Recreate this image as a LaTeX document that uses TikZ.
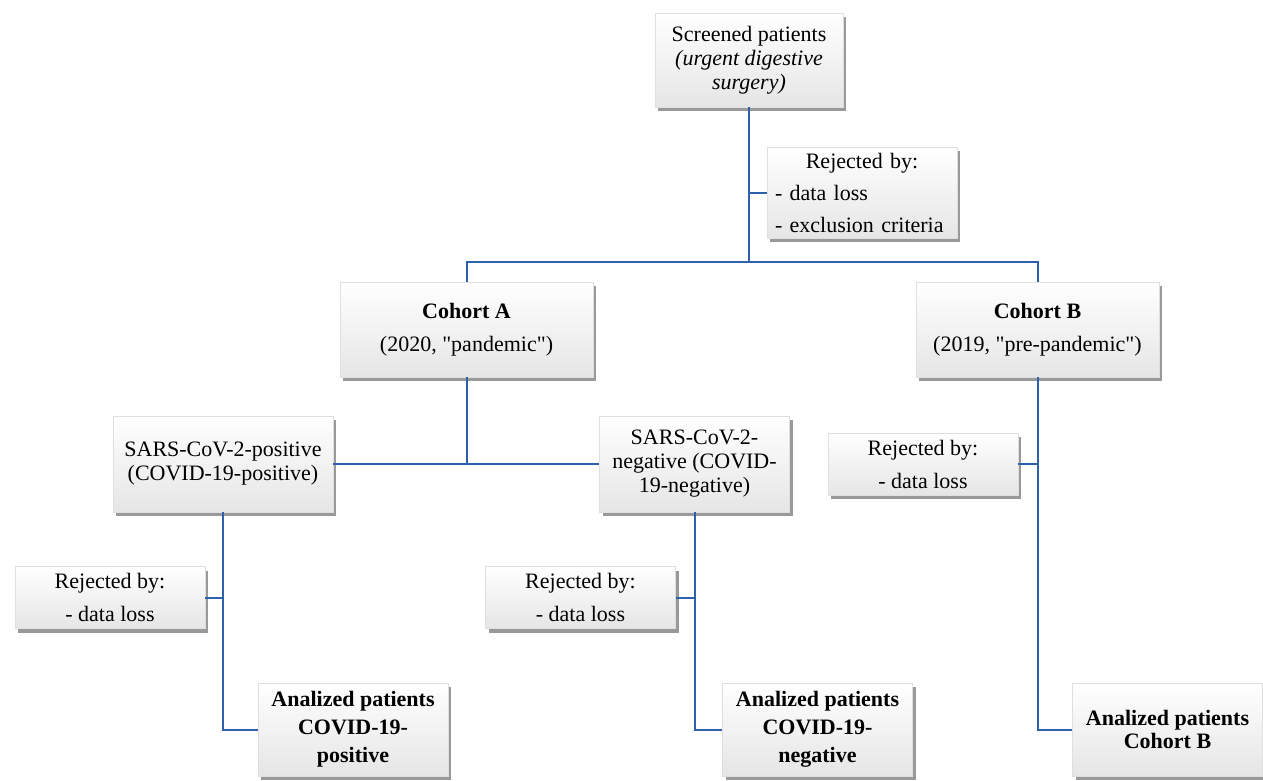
\documentclass[tikz,border=0pt]{standalone}
\usepackage{fontspec}
\setmainfont{Liberation Serif}
\usetikzlibrary{shadows, positioning}
\definecolor{lineblue}{RGB}{46,96,172}

\begin{document}
\begin{tikzpicture}[x=0.5pt, y=-0.5pt,
    link/.style={draw=lineblue, line width=1pt}]
    \tikzset{
      box/.style={
        rectangle,
        draw=gray!25, very thin,
        top color=white, bottom color=gray!20,
        drop shadow={shadow xshift=1.5pt, shadow yshift=-2pt,
                     fill=black, opacity=0.4},
        align=center,
        inner sep=2pt,
        font=\rmfamily\fontsize{11}{12}\selectfont,
      },
      loose/.style={font=\rmfamily\fontsize{11}{16.5}\selectfont},
      bold/.style={font=\rmfamily\fontsize{11}{14}\selectfont\bfseries},
      smallbox/.style={box, minimum width=95pt, minimum height=31pt},
      bigbox/.style={box, minimum width=95pt, minimum height=47pt},
    }
    \useasboundingbox (0,0) rectangle (1263,781);

    % top
    \node[bigbox, minimum width=94pt] (screen) at (749,60)
        {Screened patients\\ \textit{(urgent digestive}\\ \textit{surgery)}};
    \node[box, font=\rmfamily\fontsize{11}{16}\selectfont, align=left,
          text width=87pt, inner xsep=4pt, minimum height=45.5pt] (rej0) at (862,192.5)
        {\makebox[87pt]{Rejected by:}\\ - data loss\\ - exclusion criteria};

    % cohorts
    \node[bigbox, loose, minimum width=126.5pt, minimum height=47.5pt] (cohA) at (466.5,329.5)
        {\textbf{Cohort A}\\ (2020, \textquotedbl pandemic\textquotedbl)};
    \node[bigbox, loose, minimum width=121.5pt, minimum height=47.5pt] (cohB) at (1037.5,329.5)
        {\textbf{Cohort B}\\ (2019, \textquotedbl pre-pandemic\textquotedbl)};

    % cohort A split
    \node[bigbox, minimum width=110pt, minimum height=48pt] (sarsP) at (223,464)
        {SARS-CoV-2-positive\\ (COVID-19-positive)};
    \node[bigbox, minimum height=48pt] (sarsN) at (694.5,464)
        {SARS-CoV-2-\\ negative (COVID-\\ 19-negative)};

    % rejected
    \node[smallbox, loose] (rejP) at (110,597.5) {Rejected by:\\ - data loss};
    \node[smallbox, loose] (rejN) at (580.5,597.5) {Rejected by:\\ - data loss};
    \node[smallbox, loose] (rejB) at (923,464) {Rejected by:\\ - data loss};

    % analized
    \node[bigbox, bold, minimum height=46.5pt] (anP) at (353,729.5)
        {Analized patients\\ COVID-19-\\ positive};
    \node[bigbox, bold, minimum height=46.5pt] (anN) at (817.5,729.5)
        {Analized patients\\ COVID-19-\\ negative};
    \node[bigbox, font=\rmfamily\fontsize{11}{11.5}\selectfont\bfseries,
          minimum height=46.5pt] (anB) at (1167.5,729.5)
        {Analized patients\\ Cohort B};

    \coordinate (split0) at (749,262);

    \draw[link] (screen.south) -- (split0);
    \draw[link] (rej0.west) -- (rej0.west -| split0);
    \draw[link] (cohA.north) |- (split0) -| (cohB.north);

    \draw[link] (cohA.south) -- (cohA.south |- sarsP.east);
    \draw[link] (sarsP.east) -- (sarsN.west);

    \draw[link] (sarsP.south) |- (anP.west);
    \draw[link] (rejP.east) -- (rejP.east -| sarsP.south);
    \draw[link] (sarsN.south) |- (anN.west);
    \draw[link] (rejN.east) -- (rejN.east -| sarsN.south);
    \draw[link] (cohB.south) |- (anB.west);
    \draw[link] (rejB.east) -- (rejB.east -| cohB.south);
\end{tikzpicture}
\end{document}
